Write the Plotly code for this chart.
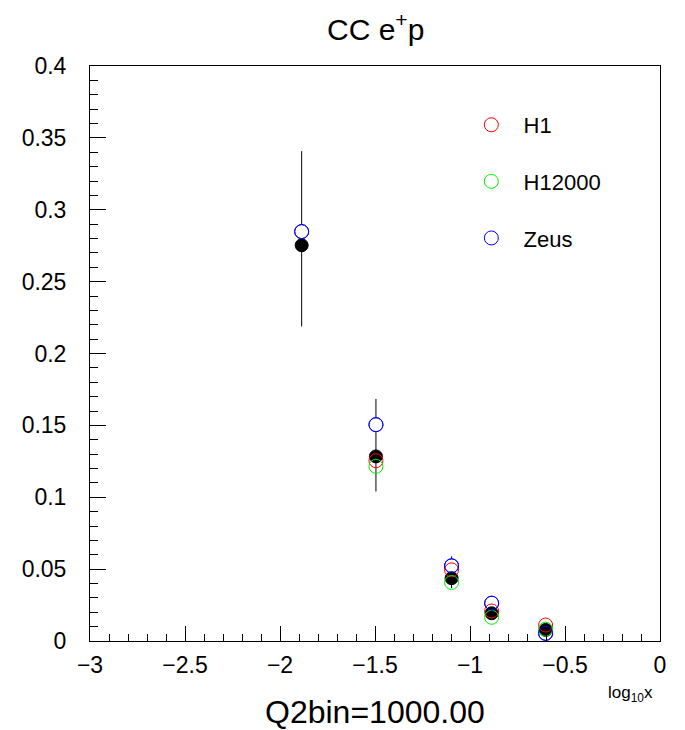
import plotly.graph_objects as go

# ---- data ----
log10x = [-1.886, -1.495, -1.097, -0.886, -0.602]
data_y = [0.2753, 0.1284, 0.0437, 0.0193, 0.0077]
data_err_plus = [0.0655, 0.0400, 0.0152, 0.0040, 0.0020]
data_err_minus = [0.0565, 0.0244, 0.0070, 0.0040, 0.0020]
h1_y = [None, 0.1254, 0.0495, 0.0209, 0.0111]
h12000_y = [None, 0.1215, 0.0407, 0.0165, 0.0082]
zeus_y = [0.2848, 0.1505, 0.0523, 0.0263, 0.0053]

series_names = ["H1", "H12000", "Zeus"]
series_colors = ["#ff0000", "#00ee00", "#0000ff"]

FONT = "Liberation Sans, Arial, Helvetica, sans-serif"
NB = "\u00a0"
MS = 14

fig = go.Figure()

# error bars of the data (black)
fig.add_trace(go.Scatter(
    x=log10x, y=data_y, mode="markers",
    marker=dict(size=MS, color="black", opacity=0),
    error_y=dict(type="data", symmetric=False, array=data_err_plus,
                 arrayminus=data_err_minus, color="black", thickness=1, width=0),
    showlegend=False, hoverinfo="skip"))

# white-filled Zeus backing (hides the error line inside the circle)
fig.add_trace(go.Scatter(
    x=log10x, y=zeus_y, mode="markers",
    marker=dict(size=MS, color="white", line=dict(color=series_colors[2], width=1)),
    showlegend=False, hoverinfo="skip"))

# data points
fig.add_trace(go.Scatter(
    x=log10x, y=data_y, mode="markers",
    marker=dict(size=MS - 1, color="black", line=dict(color="black", width=1)),
    showlegend=False, name="data"))

for i, (nm, yy) in enumerate(zip(series_names, [h1_y, h12000_y, zeus_y])):
    fig.add_trace(go.Scatter(
        x=log10x, y=yy, mode="markers",
        name=NB * 2 + nm, legendgroup=nm,
        marker=dict(size=MS, symbol="circle-open", color=series_colors[i],
                    line=dict(color=series_colors[i], width=1))))

axis_common = dict(
    showline=True, linecolor="black", linewidth=1, mirror=True,
    ticks="inside", tickcolor="black", tickwidth=1,
    showgrid=False, zeroline=False,
    tickfont=dict(family=FONT, size=23, color="black"),
)

fig.update_xaxes(range=[-3, 0], dtick=0.5, tick0=-3, ticklen=15,
                 ticklabelstandoff=3,
                 minor=dict(dtick=0.1, tick0=-3, ticks="inside", ticklen=7,
                            tickcolor="black", showgrid=False),
                 **axis_common)
fig.update_yaxes(range=[0, 0.4], dtick=0.05, tick0=0, ticklen=16,
                 ticklabelstandoff=18,
                 minor=dict(dtick=0.01, tick0=0, ticks="inside", ticklen=8,
                            tickcolor="black", showgrid=False),
                 **axis_common)

fig.update_layout(
    width=685, height=730,
    margin=dict(l=90, r=25, t=66, b=89),
    paper_bgcolor="white", plot_bgcolor="white",
    font=dict(family=FONT, color="black"),
    showlegend=True,
    legend=dict(x=0.669, y=0.934, xanchor="left", yanchor="top",
                bgcolor="rgba(0,0,0,0)", borderwidth=0,
                font=dict(family=FONT, size=22, color="black"),
                tracegroupgap=25, itemsizing="trace"),
    annotations=[
        dict(text="CC e<sup>+</sup>p", x=0.5, y=1, xref="paper", yref="paper",
             xanchor="center", yanchor="middle", yshift=39, showarrow=False,
             font=dict(family=FONT, size=30, color="black")),
        dict(text="Q2bin=1000.00", x=0.5, y=0, xref="paper", yref="paper",
             xanchor="center", yanchor="middle", yshift=-71, showarrow=False,
             font=dict(family=FONT, size=32, color="black")),
        dict(text="log<sub>10</sub>x", x=0.949, y=0, xref="paper", yref="paper",
             xanchor="center", yanchor="middle", yshift=-53, showarrow=False,
             font=dict(family=FONT, size=17, color="black")),
    ],
)

fig.write_html("out.html",
               config={"displayModeBar": False},
               post_script="document.body.style.margin='0';")
